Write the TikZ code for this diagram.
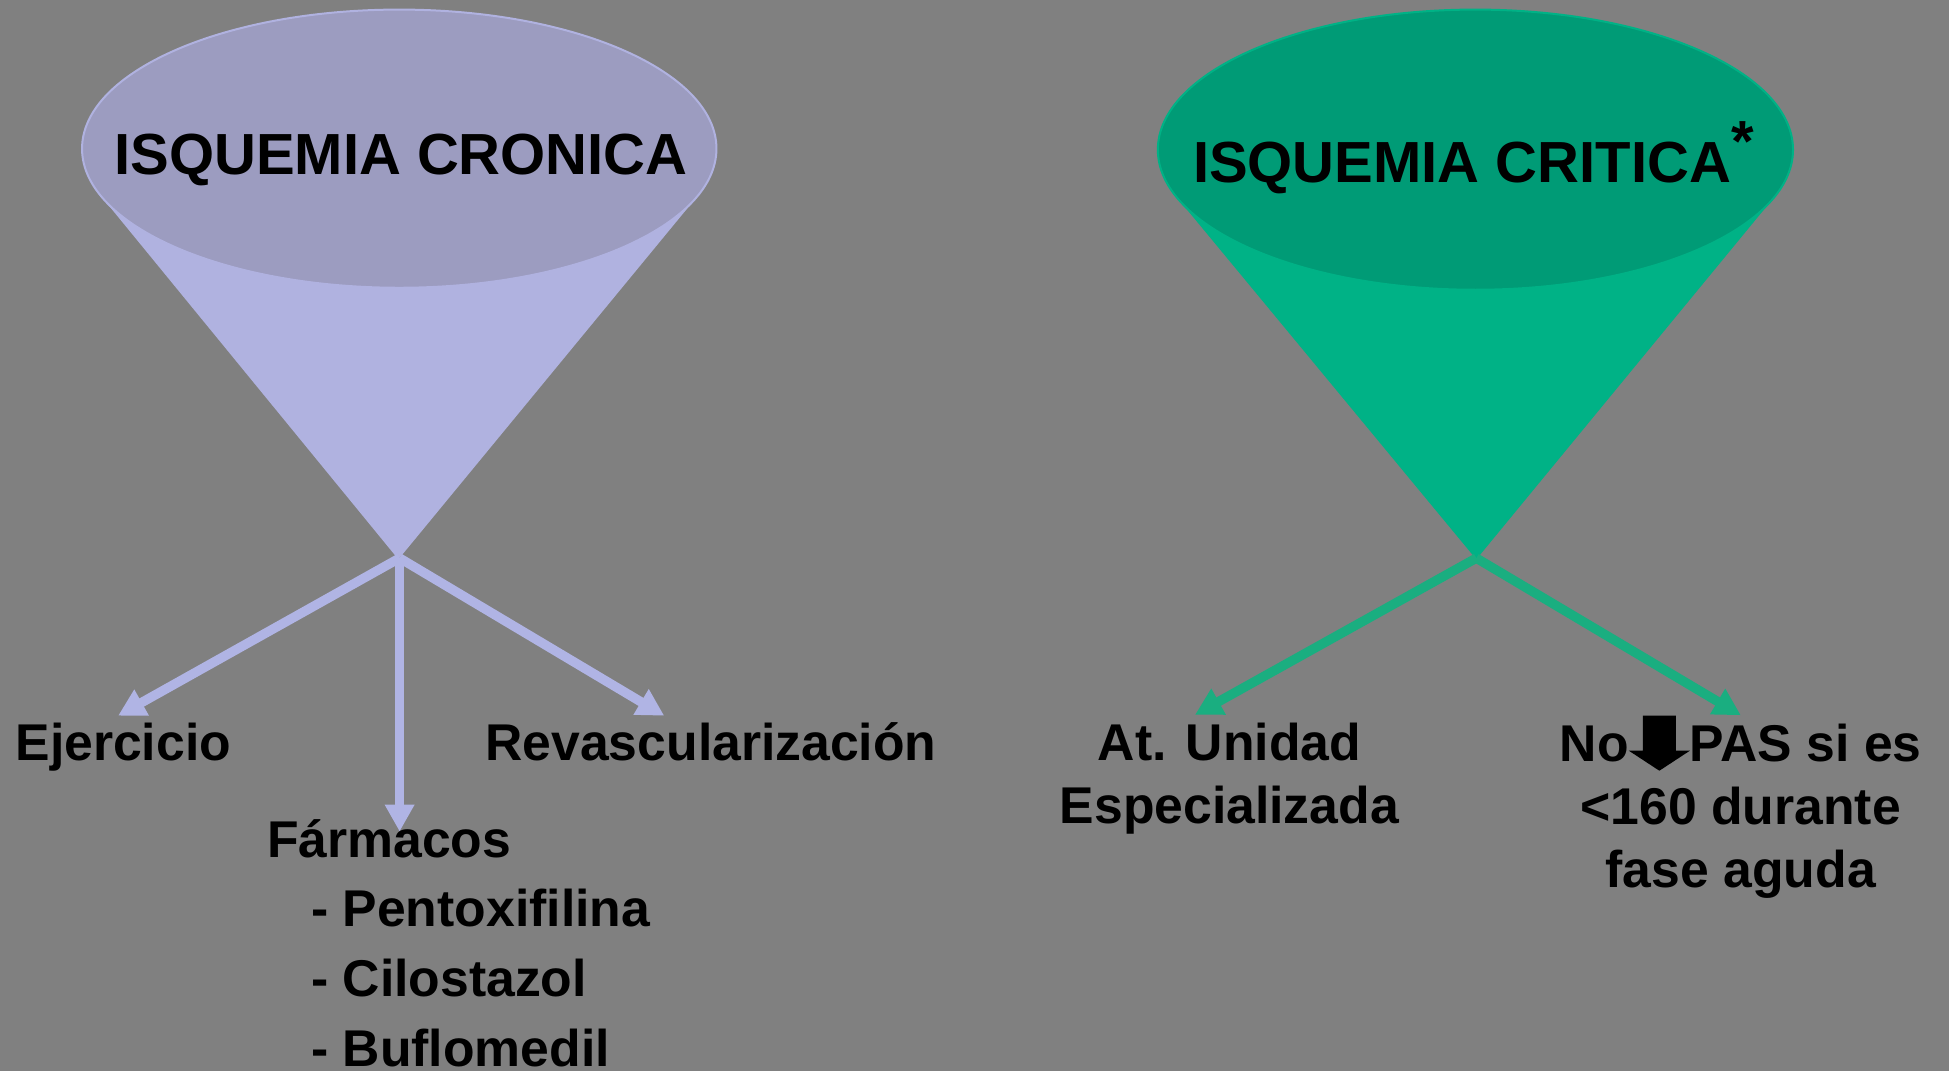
\documentclass[tikz,border=0pt]{standalone}
\usepackage{fontspec}
\setmainfont{Liberation Sans}
\usetikzlibrary{arrows.meta,calc}

\definecolor{fondo}{RGB}{128,128,128}
\definecolor{lilatapa}{RGB}{156,156,192}
\definecolor{lilacono}{RGB}{176,178,224}
\definecolor{lilaflecha}{RGB}{176,180,228}
\definecolor{verdetapa}{RGB}{0,155,118}
\definecolor{verdecono}{RGB}{0,178,134}
\definecolor{verdeflecha}{RGB}{26,174,128}

% flecha gruesa hacia abajo dentro del texto
\newcommand{\bajaflecha}{\tikz[baseline=0pt]\fill (-0.32em,0.885em) -- (0.32em,0.885em) -- (0.32em,0.207em) -- (0.59em,0.207em) -- (0em,-0.18em) -- (-0.59em,0.207em) -- (-0.32em,0.207em) -- cycle;}

\begin{document}
\begin{tikzpicture}[x=0.6215pt, y=-0.6215pt,
    titulo/.style={font=\fontsize{29pt}{34pt}\selectfont\bfseries, inner sep=0pt, anchor=base},
    texto/.style={font=\fontsize{25.85pt}{31.4pt}\selectfont\bfseries, inner sep=0pt, anchor=base, align=center},
    flechaL/.style={color=lilaflecha, line width=4.7pt, -{Triangle[length=13.5pt,width=14pt]}},
    flechaR/.style={flechaL, color=verdeflecha}]
        \useasboundingbox (0,0) rectangle (1568,862);
        \fill[fondo] (0,0) rectangle (1568,862);

        % cono izquierdo
        \fill[lilacono] (81.1,157.5) -- (320.5,450) -- (561.3,157.5) -- cycle;
        \fill[lilatapa, draw=lilacono, line width=1pt] (321.2,119.6) ellipse [x radius=255.2, y radius=111.9];
        \coordinate (puntaL) at (321.5,449);

        % cono derecho
        \fill[verdecono] (946.9,158.9) -- (1187.7,450) -- (1427.1,158.9) -- cycle;
        \fill[verdetapa, draw=verdecono, line width=1pt] (1187,120.4) ellipse [x radius=255.5, y radius=112.7];
        \coordinate (puntaR) at (1187.7,449);

        \node[titulo] (cronica) at (322.6,140) {ISQUEMIA CRONICA};
        \node[titulo, anchor=base west] (critica) at (959.5,147) {ISQUEMIA CRITICA\raisebox{0.37em}{*}};

        \node[texto] (ejer) at (99.2,612) {Ejercicio};
        \node[texto] (revasc) at (572,612) {Revascularización};
        \node[texto, anchor=base west] (farm) at (214.5,689.6) {Fármacos};
        \foreach \f [count=\i] in {Pentoxifilina, Cilostazol, Buflomedil}
          \node[texto, anchor=base west] (farm\i) at (250,689.6+56*\i) {- \f};

        % base = ultima linea
        \node[texto] (unidad) at (989,662.4) {At. Unidad\\Especializada};
        \node[texto] (pas) at (1400.5,713.6) {No\bajaflecha PAS si es\\<160 durante\\fase aguda};

        \draw[flechaL] (puntaL) -- ($(ejer.base)+(-4.2,-36.2)$);
        \draw[flechaL] (puntaL) -- ($(farm.base -| puntaL)+(0,-20.6)$);
        \draw[flechaL] (puntaL) -- ($(revasc.base)+(-37.6,-36.2)$);
        \draw[flechaR] (puntaR) -- ($(unidad.north)+(-27.6,-6.4)$);
        \draw[flechaR] (puntaR) -- (pas.north);
      \end{tikzpicture}
\end{document}
